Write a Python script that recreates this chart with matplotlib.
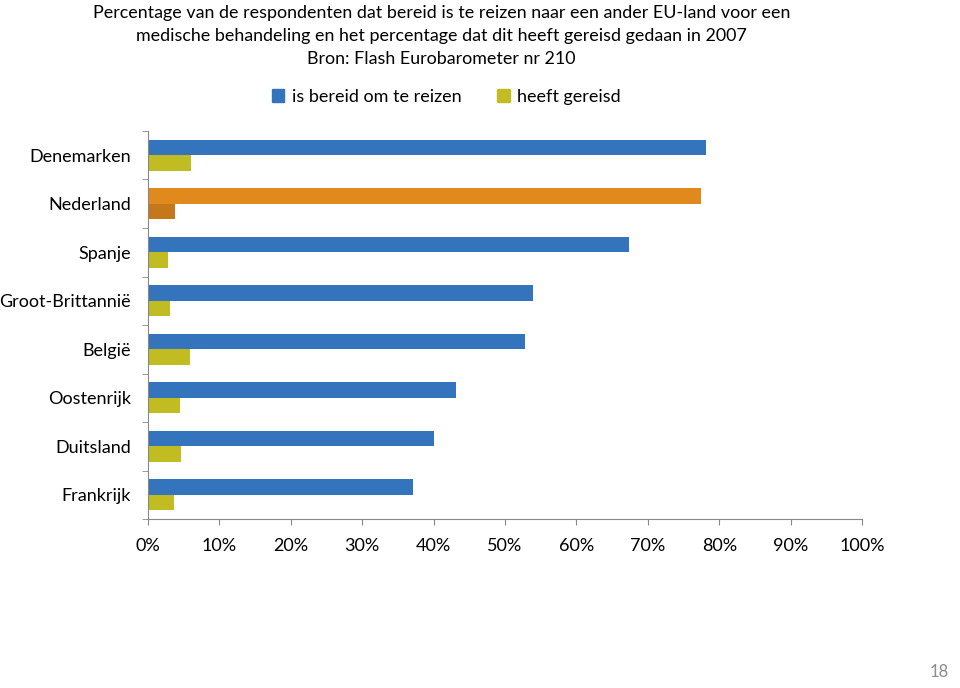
import matplotlib
matplotlib.use("Agg")
from matplotlib import pyplot as plt
from matplotlib.patches import Patch
import numpy as np

plt.rcParams['font.family'] = ['Lato', 'DejaVu Sans']

landen = ['Denemarken', 'Nederland', 'Spanje', 'Groot-Brittannië', 'België',
          'Oostenrijk', 'Duitsland', 'Frankrijk']
bereid = [78.1, 77.5, 67.4, 53.9, 52.8, 43.1, 40.1, 37.1]   # is bereid om te reizen
gereisd = [6.1, 3.8, 2.8, 3.1, 5.9, 4.5, 4.7, 3.6]          # heeft gereisd
xticks = [0, 10, 20, 30, 40, 50, 60, 70, 80, 90, 100]

blauw = '#3474BC'
geel = '#C0BC22'
oranje = '#E08A1E'
donkeroranje = '#C47819'

fig = plt.figure(figsize=(9.6, 6.88), dpi=100)
ax = fig.add_axes([0.154, 0.2456, 0.744, 0.564])

y = np.arange(len(landen))
h = 0.32
kleur1 = [oranje if l == 'Nederland' else blauw for l in landen]
kleur2 = [donkeroranje if l == 'Nederland' else geel for l in landen]
ax.barh(y - h / 2, bereid, height=h, color=kleur1)
ax.barh(y + h / 2, gereisd, height=h, color=kleur2)

ax.set_xlim(0, 100)
ax.set_ylim(len(landen) - 0.5, -0.5)
ax.set_xticks(xticks)
ax.set_xticklabels([f'{v}%' for v in xticks], fontsize=13)
ax.set_yticks(y)
ax.set_yticklabels(landen, fontsize=13)
ax.set_yticks(np.arange(len(landen) + 1) - 0.5, minor=True)
ax.tick_params(axis='y', which='major', length=0, pad=12)
ax.tick_params(axis='y', which='minor', length=4.5, color='#888888', direction='out')
ax.tick_params(axis='x', length=4.5, color='#888888', pad=9)
for s in ['top', 'right']:
    ax.spines[s].set_visible(False)
for s in ['left', 'bottom']:
    ax.spines[s].set_color('#888888')

fig.text(0.46, 0.993, 'Percentage van de respondenten dat bereid is te reizen naar een ander EU-land voor een\n'
         'medische behandeling en het percentage dat dit heeft gereisd gedaan in 2007\n'
         'Bron: Flash Eurobarometer nr 210',
         ha='center', va='top', fontsize=12.9, linespacing=1.55)

handles = [Patch(color=blauw, label='is bereid om te reizen'),
           Patch(color=geel, label='heeft gereisd')]
fig.legend(handles=handles, loc='center', bbox_to_anchor=(0.465, 0.859), ncol=2,
           frameon=False, fontsize=13, handlelength=0.7, handleheight=0.7,
           handletextpad=0.4, columnspacing=2.0)

fig.text(0.988, 0.012, '18', ha='right', va='bottom', fontsize=12, color='#8C8C8C')

fig.savefig('out.png', dpi=100)
